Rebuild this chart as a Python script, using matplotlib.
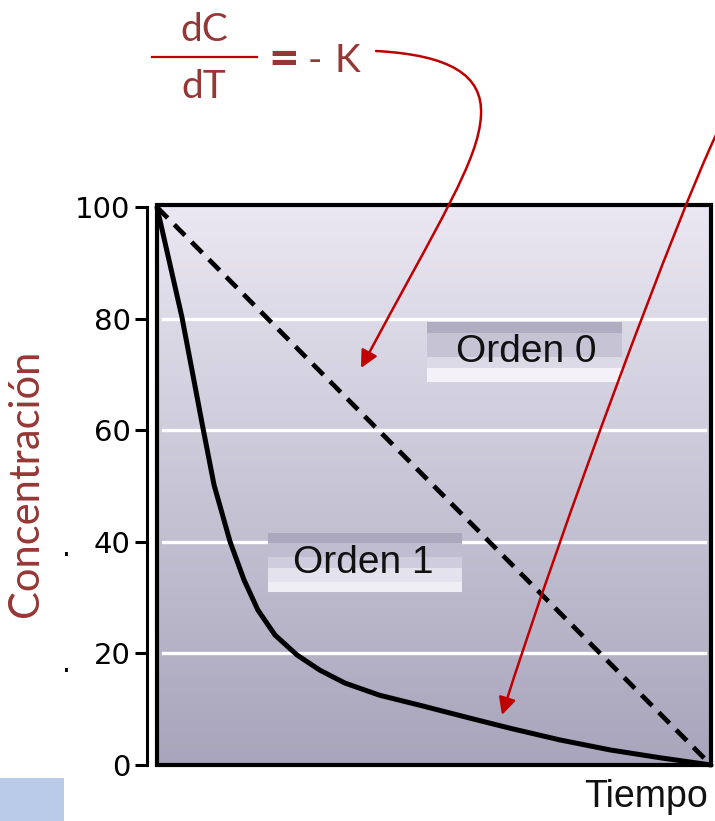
import numpy as np
import matplotlib
matplotlib.use("Agg")
import matplotlib.pyplot as plt
from matplotlib.colors import LinearSegmentedColormap
from matplotlib.patches import Rectangle, FancyArrowPatch
from matplotlib.path import Path

# values
time_order1 = [0, 4.5, 8.3, 10.3, 13.2, 15.7, 18.2, 21.3, 25.3, 29.4, 33.9, 40.2,
               47.5, 56.5, 63.7, 72.7, 81.8, 90.8, 100]
conc_order1 = [100, 80.3, 60.4, 50.2, 40.0, 33.2, 27.8, 23.3, 19.7, 17.0, 14.7, 12.5,
               10.7, 8.4, 6.6, 4.5, 2.7, 1.3, 0]
time_order0 = [0, 100]
conc_order0 = [100, 0]
y_ticks = [0, 20, 40, 60, 80, 100]
grid_levels = [20, 40, 60, 80]
y_label = "Concentración"
x_label = "Tiempo"
label_order0 = "Orden 0"
label_order1 = "Orden 1"

W, H = 715, 821
RED_TXT = "#953735"
RED_LINE = "#c00000"


def fx(px):
    return px / W


def fy(py):
    return 1 - py / H


fig = plt.figure(figsize=(W / 100, H / 100), dpi=100)
fig.patch.set_facecolor("white")

# light blue block at the bottom left corner
fig.add_artist(Rectangle((0, 0), fx(64), fy(778), transform=fig.transFigure,
                         facecolor="#b9cbe8", edgecolor="none"))

ax = fig.add_axes([fx(157), fy(765), (711 - 157) / W, (765 - 205) / H])
ax.set_xlim(0, 100)
ax.set_ylim(0, 100.4)

# background gradient
bg_cmap = LinearSegmentedColormap.from_list("bg", ["#ebe8f3", "#c8c5d6", "#a8a5bc"])
grad = np.linspace(1, 0, 256).reshape(-1, 1)
ax.imshow(grad, cmap=bg_cmap, extent=[0, 100, 0, 100.4], aspect="auto",
          origin="lower", zorder=0)

for lev in grid_levels:
    ax.axhline(lev, xmin=0.01, xmax=0.99, color="white", lw=2.4, zorder=1)


# label boxes with banded shading
def label_box(x0, x1, bands, colors, text, tx, ty):
    for (top, bot), c in zip(bands, colors):
        ax.add_patch(Rectangle((x0, bot), x1 - x0, top - bot, facecolor=c,
                               edgecolor="none", zorder=2))
    ax.text(tx, ty, text, ha="center", va="center", fontsize=28,
            family="Liberation Sans", color="#111111", zorder=3)


label_box(48.7, 83.9, [(79.4, 77.4), (77.4, 73.1), (73.1, 71.1), (71.1, 68.6)],
          ["#b0adc3", "#c6c3d5", "#dcdae6", "#f4f2f8"], label_order0, 66.6, 74.0)
label_box(20.0, 55.1, [(41.6, 39.8), (39.8, 37.3), (37.3, 35.3), (35.3, 32.8), (32.8, 31.0)],
          ["#aaa7be", "#c0bdd0", "#cfccdd", "#e4e2ec", "#f0eef5"], label_order1, 37.2, 36.2)

ax.plot(time_order0, conc_order0, color="black", lw=3.4, linestyle=(0, (3.2, 2)),
        zorder=4, clip_on=False)
ax.plot(time_order1, conc_order1, color="black", lw=3.6, zorder=4,
        solid_joinstyle="round", solid_capstyle="round", clip_on=False)

# frame and offset y axis
for s in ["top", "right", "bottom"]:
    ax.spines[s].set_visible(False)
ax.add_patch(Rectangle((0, 0), 1, 1, transform=ax.transAxes, fill=False,
                       edgecolor="black", lw=3, zorder=5, clip_on=False))
ax.spines["left"].set_position(("outward", 7))
ax.spines["left"].set_linewidth(2.2)
ax.spines["left"].set_bounds(0, 100)
ax.set_xticks([])
ax.set_yticks(y_ticks)
ax.set_yticklabels([str(v) for v in y_ticks], fontsize=21, family="DejaVu Sans")
ax.tick_params(axis="y", length=9, width=2.2, pad=3)

fig.text(fx(708), fy(807), x_label, ha="right", va="baseline", fontsize=27,
         family="Liberation Sans", color="#111111")
fig.text(fx(26), fy(483), y_label, rotation=90, ha="center", va="center",
         fontsize=30, family="Lato", color=RED_TXT)

# stray dots next to the tick labels
fig.text(fx(66), fy(548), ".", ha="center", va="center", fontsize=20, color="black")
fig.text(fx(66), fy(664), ".", ha="center", va="center", fontsize=20, color="black")

# rate equation
fig.text(fx(204), fy(41), "dC", ha="center", va="baseline", fontsize=28,
         family="Lato", color=RED_TXT)
fig.text(fx(204), fy(98), "dT", ha="center", va="baseline", fontsize=28,
         family="Lato", color=RED_TXT)
fig.add_artist(plt.Line2D([fx(152), fx(257)], [fy(57), fy(57)],
                          transform=fig.transFigure, color=RED_LINE, lw=1.6))
fig.text(fx(268), fy(76), "=", ha="left", va="baseline", fontsize=38,
         family="Lato", fontweight="bold", color=RED_TXT)
fig.text(fx(308), fy(72), "-", ha="left", va="baseline", fontsize=28,
         family="Lato", color=RED_TXT)
fig.text(fx(335), fy(72), "K", ha="left", va="baseline", fontsize=28,
         family="Lato", color=RED_TXT)


# red arrows drawn in pixel space of the figure
def red_arrow(points):
    verts = [(fx(x), fy(y)) for x, y in points]
    codes = [Path.MOVETO] + [Path.CURVE4] * (len(verts) - 1)
    arr = FancyArrowPatch(path=Path(verts, codes), arrowstyle="-|>",
                          mutation_scale=26, color=RED_LINE, lw=1.8,
                          transform=fig.transFigure, shrinkA=0, shrinkB=0,
                          zorder=10)
    fig.add_artist(arr)


red_arrow([(376, 51), (450, 55), (483, 75), (481, 115),
           (479, 160), (440, 220), (361, 368)])
red_arrow([(716, 135), (680, 210), (560, 530), (502, 715)])

fig.savefig("out.png", dpi=100)
